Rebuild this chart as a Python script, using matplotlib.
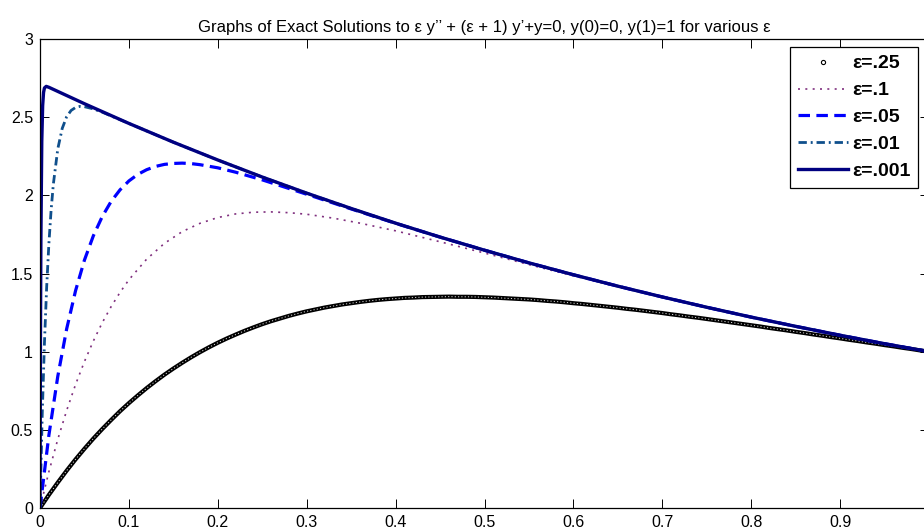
import numpy as np
import matplotlib
matplotlib.use("Agg")
import matplotlib.pyplot as plt
from matplotlib.lines import Line2D

plt.rcParams['font.family'] = ['Liberation Sans', 'DejaVu Sans']

# values
x_25 = [i / 100 for i in range(101)]
y_25 = [0.000, 0.084, 0.163, 0.239, 0.311, 0.379, 0.444, 0.505, 0.563, 0.619,
        0.671, 0.720, 0.767, 0.811, 0.853, 0.892, 0.929, 0.964, 0.997, 1.028,
        1.057, 1.084, 1.109, 1.133, 1.155, 1.176, 1.195, 1.212, 1.229, 1.244,
        1.258, 1.270, 1.282, 1.292, 1.302, 1.310, 1.318, 1.325, 1.331, 1.336,
        1.340, 1.344, 1.346, 1.349, 1.350, 1.351, 1.352, 1.351, 1.351, 1.350,
        1.348, 1.346, 1.343, 1.340, 1.337, 1.334, 1.330, 1.325, 1.321, 1.316,
        1.310, 1.305, 1.299, 1.293, 1.287, 1.281, 1.274, 1.268, 1.261, 1.254,
        1.247, 1.239, 1.232, 1.224, 1.217, 1.209, 1.201, 1.193, 1.185, 1.177,
        1.169, 1.161, 1.152, 1.144, 1.136, 1.127, 1.119, 1.110, 1.102, 1.093,
        1.085, 1.076, 1.068, 1.059, 1.051, 1.042, 1.034, 1.025, 1.017, 1.008,
        1.000]

x_1 = [0, 0.01, 0.02, 0.03, 0.04, 0.05, 0.06, 0.07, 0.08, 0.09, 0.10, 0.12,
       0.14, 0.16, 0.18, 0.20, 0.22, 0.24, 0.26, 0.28, 0.30, 0.33, 0.36, 0.40,
       0.45, 0.50, 0.55, 0.60, 0.65, 0.70, 0.75, 0.80, 0.85, 0.90, 0.95, 1.00]
y_1 = [0, 0.232, 0.439, 0.624, 0.790, 0.937, 1.068, 1.185, 1.288, 1.379,
       1.460, 1.592, 1.693, 1.768, 1.821, 1.858, 1.881, 1.892, 1.894, 1.889,
       1.879, 1.854, 1.822, 1.773, 1.703, 1.631, 1.557, 1.485, 1.415, 1.348,
       1.283, 1.221, 1.161, 1.105, 1.051, 1.000]

x_05 = [0, 0.01, 0.02, 0.03, 0.04, 0.05, 0.06, 0.07, 0.08, 0.09, 0.10, 0.11,
        0.12, 0.13, 0.14, 0.15, 0.16, 0.17, 0.18, 0.20, 0.22, 0.25, 0.30, 0.35,
        0.40, 0.45, 0.50, 0.55, 0.60, 0.65, 0.70, 0.75, 0.80, 0.85, 0.90, 0.95,
        1.00]
y_05 = [0, 0.466, 0.842, 1.146, 1.390, 1.586, 1.741, 1.864, 1.961, 2.035,
        2.092, 2.134, 2.164, 2.185, 2.198, 2.204, 2.206, 2.203, 2.196, 2.176,
        2.148, 2.099, 2.007, 1.913, 1.821, 1.733, 1.649, 1.568, 1.492, 1.419,
        1.350, 1.284, 1.221, 1.162, 1.105, 1.051, 1.000]

x_01 = [0, 0.0025, 0.005, 0.0075, 0.01, 0.0125, 0.015, 0.02, 0.025, 0.03,
        0.035, 0.04, 0.045, 0.05, 0.06, 0.07, 0.08, 0.10, 0.15, 0.20, 0.25,
        0.30, 0.35, 0.40, 0.45, 0.50, 0.55, 0.60, 0.65, 0.70, 0.75, 0.80, 0.85,
        0.90, 0.95, 1.00]
y_01 = [0, 0.595, 1.056, 1.414, 1.691, 1.906, 2.071, 2.297, 2.428, 2.503,
        2.543, 2.562, 2.569, 2.567, 2.553, 2.532, 2.508, 2.460, 2.340, 2.226,
        2.117, 2.014, 1.916, 1.822, 1.733, 1.649, 1.568, 1.492, 1.419, 1.350,
        1.284, 1.221, 1.162, 1.105, 1.051, 1.000]

x_001 = [0, 0.0005, 0.001, 0.002, 0.003, 0.004, 0.005, 0.007, 0.01, 0.05,
         0.10, 0.15, 0.20, 0.25, 0.30, 0.35, 0.40, 0.45, 0.50, 0.55, 0.60,
         0.65, 0.70, 0.75, 0.80, 0.85, 0.90, 0.95, 1.00]
y_001 = [0, 1.068, 1.716, 2.345, 2.575, 2.658, 2.687, 2.697, 2.691, 2.586,
         2.460, 2.340, 2.226, 2.117, 2.014, 1.916, 1.822, 1.733, 1.649, 1.568,
         1.492, 1.419, 1.350, 1.284, 1.221, 1.162, 1.105, 1.051, 1.000]

labels = ['ε=.25', 'ε=.1', 'ε=.05', 'ε=.01', 'ε=.001']

purple = '#80307f'
blue = '#0000ff'
teal = '#0f4f8c'
navy = '#000080'
dot_style = dict(color=purple, lw=1.2, dashes=(1.2, 3.2))
dash_style = dict(color=blue, lw=2.3, dashes=(3.6, 2.0))
dashdot_style = dict(color=teal, lw=2.0, dashes=(3.0, 1.4, 0.7, 1.4))
solid_style = dict(color=navy, lw=2.4)

fig = plt.figure(figsize=(9.24, 5.29), dpi=100)
ax = fig.add_axes([40 / 924, 21 / 529, 889 / 924, 469 / 529])

# eps = .25 : dense chain of small open circles
ax.plot(x_25, y_25, color='black', lw=3.0, solid_capstyle='butt', zorder=2)
ax.plot(x_25, y_25, color='white', lw=0.7, dashes=(1.2, 2.2), alpha=0.85, zorder=2)

ax.plot(x_1, y_1, **dot_style)
ax.plot(x_05, y_05, **dash_style)
ax.plot(x_01, y_01, **dashdot_style)
ax.plot(x_001, y_001, **solid_style)

ax.set_xlim(0, 1)
ax.set_ylim(0, 3)
ax.set_xticks(np.arange(0, 1.01, 0.1))
ax.set_xticklabels(['0', '0.1', '0.2', '0.3', '0.4', '0.5', '0.6', '0.7', '0.8', '0.9', ''])
ax.set_yticks(np.arange(0, 3.01, 0.5))
ax.set_yticklabels(['0', '0.5', '1', '1.5', '2', '2.5', '3'])
ax.tick_params(direction='in', length=6.5, width=0.7, top=True, right=True,
               labelsize=11.5, pad=5)
for s in ax.spines.values():
    s.set_linewidth(0.9)

ax.set_title("Graphs of Exact Solutions to ε y’’ + (ε + 1) y’+y=0, y(0)=0, y(1)=1 for various ε",
             fontsize=12, pad=5)

handles = [
    Line2D([], [], ls='none', marker='o', ms=3.0, mfc='white', mec='black', mew=0.8),
    Line2D([], [], **dot_style),
    Line2D([], [], **dash_style),
    Line2D([], [], **dashdot_style),
    Line2D([], [], **solid_style),
]
leg = ax.legend(handles, labels, loc='upper left', bbox_to_anchor=(0.8436, 0.983),
                prop={'weight': 'bold', 'size': 14}, numpoints=1, fancybox=False,
                edgecolor='black', framealpha=1, borderaxespad=0, handlelength=2.6,
                handletextpad=0.2, labelspacing=0.48, borderpad=0.4)
leg.get_frame().set_linewidth(0.9)

fig.savefig('out.png', dpi=100)
